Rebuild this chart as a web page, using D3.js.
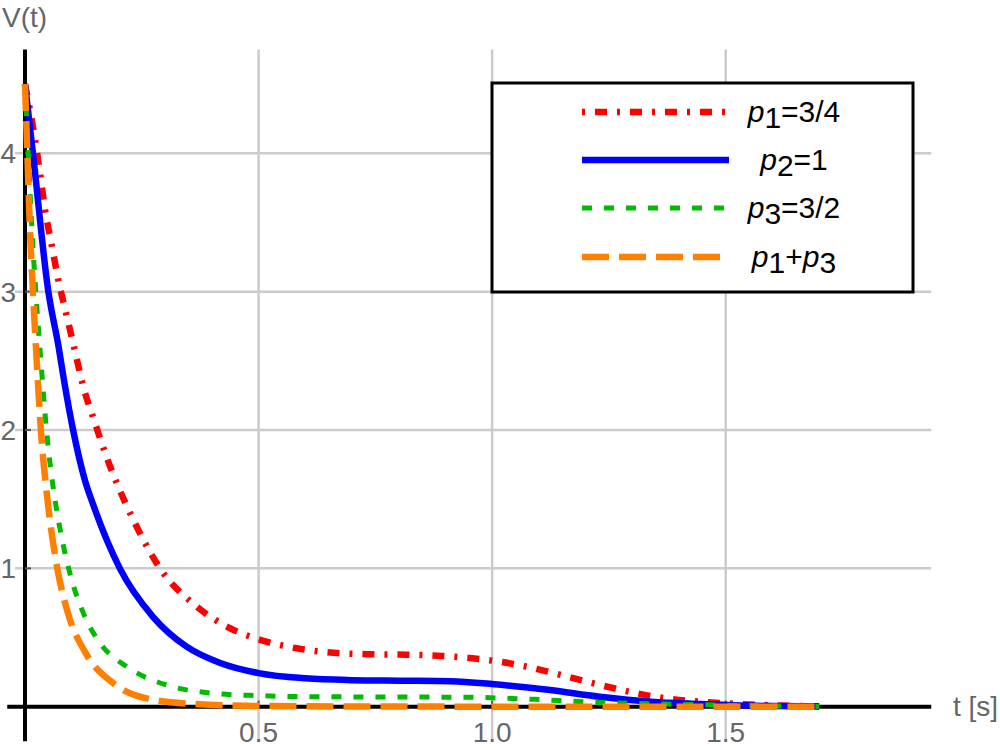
<!DOCTYPE html>
<html lang="en">
<head>
<meta charset="UTF-8">
<title>V(t)</title>
<script src="https://d3js.org/d3.v7.min.js"></script>
<style>
  body { margin: 0; background: #fff; }
  svg { display: block; font-family: "Liberation Sans", Arial, sans-serif; }
  .grid line { stroke: #cbcbcb; stroke-width: 2.5; }
  .tick-label { fill: #666; font-size: 28px; }
  .axis-title { fill: #666; font-size: 28px; }
  .legend-label { fill: #000; font-size: 30px; }
</style>
</head>
<body>
<div id="chart"></div>
<script>
// Series: t in seconds, V(t)
const tRed   = [0, 0.021, 0.032, 0.043, 0.057, 0.071, 0.089, 0.107, 0.125, 0.148, 0.173, 0.201, 0.232, 0.289, 0.368, 0.439, 0.5, 0.582, 0.66, 0.739, 0.817, 0.892, 0.967, 1.045, 1.12, 1.195, 1.27, 1.35, 1.42, 1.5, 1.6, 1.7];
const vRed   = [4.5, 4.11, 3.86, 3.59, 3.34, 3.09, 2.83, 2.57, 2.31, 2.07, 1.82, 1.58, 1.35, 1.0, 0.723, 0.567, 0.487, 0.422, 0.39, 0.379, 0.376, 0.367, 0.347, 0.309, 0.253, 0.188, 0.126, 0.072, 0.043, 0.025, 0.01, 0.003];

const tBlue  = [0, 0.017, 0.05, 0.072, 0.0835, 0.103, 0.128, 0.146, 0.203, 0.274, 0.346, 0.418, 0.5, 0.6, 0.7, 0.803, 0.91, 1.0, 1.124, 1.23, 1.34, 1.445, 1.55, 1.7];
const vBlue  = [4.5, 4.0, 3.0, 2.6, 2.36, 2.0, 1.64, 1.46, 1.0, 0.65, 0.434, 0.316, 0.243, 0.205, 0.192, 0.188, 0.184, 0.164, 0.12, 0.072, 0.036, 0.02, 0.008, 0.002];

const tGreen = [0, 0.007, 0.014, 0.023, 0.034, 0.046, 0.064, 0.077, 0.096, 0.125, 0.161, 0.218, 0.303, 0.403, 0.5, 0.632, 0.8, 0.946, 1.09, 1.195, 1.3, 1.41, 1.55, 1.7];
const vGreen = [4.5, 4.0, 3.5, 3.0, 2.5, 2.0, 1.5, 1.25, 0.966, 0.676, 0.459, 0.289, 0.157, 0.097, 0.08, 0.072, 0.07, 0.068, 0.053, 0.036, 0.024, 0.017, 0.008, 0.002];

const tOrange = [0, 0.005, 0.01, 0.017, 0.025, 0.034, 0.048, 0.066, 0.092, 0.13, 0.189, 0.26, 0.36, 0.5, 0.8, 1.2, 1.7];
const vOrange = [4.5, 4.0, 3.5, 3.0, 2.5, 2.0, 1.5, 1.06, 0.676, 0.387, 0.17, 0.06, 0.02, 0.005, 0.001, 0, 0];

const xTicks = [0.5, 1.0, 1.5];
const xTickLabels = ["0.5", "1.0", "1.5"];
const yTicks = [1, 2, 3, 4];
const yTickLabels = ["1", "2", "3", "4"];

const seriesNames = [["p", "1", "=3/4"], ["p", "2", "=1"], ["p", "3", "=3/2"], ["p", "1", "+", "p", "3"]];
const seriesColors = ["#ff0000", "#0000ff", "#00bb00", "#ff8000"];

// Chart drawing
const width = 1000, height = 750;
const svg = d3.select('#chart').append('svg')
  .attr('width', width)
  .attr('height', height);

const x = d3.scaleLinear().domain([0, 1.5]).range([25, 725.7]);
const y = d3.scaleLinear().domain([0, 4]).range([706.7, 153.3]);
const xMin = -0.038, xMax = 1.94, yMin = -0.25, yMax = 4.75;

// gridlines
const grid = svg.append('g').attr('class', 'grid');
grid.selectAll('.vg').data(xTicks).enter().append('line')
  .attr('x1', d => x(d)).attr('x2', d => x(d))
  .attr('y1', y(yMax)).attr('y2', y(yMin));
grid.selectAll('.hg').data(yTicks).enter().append('line')
  .attr('x1', 15).attr('x2', x(xMax))
  .attr('y1', d => y(d)).attr('y2', d => y(d));

// axes
svg.append('line')
  .attr('x1', x(xMin)).attr('x2', x(xMax))
  .attr('y1', y(0)).attr('y2', y(0))
  .attr('stroke', '#000').attr('stroke-width', 4);
svg.append('line')
  .attr('x1', x(0)).attr('x2', x(0))
  .attr('y1', y(yMax)).attr('y2', y(yMin))
  .attr('stroke', '#000').attr('stroke-width', 4);

// tick marks
svg.selectAll('.xt').data(xTicks).enter().append('line')
  .attr('x1', d => x(d)).attr('x2', d => x(d))
  .attr('y1', y(0) - 6).attr('y2', y(0))
  .attr('stroke', '#555').attr('stroke-width', 2);
svg.selectAll('.yt').data(yTicks).enter().append('line')
  .attr('x1', x(0)).attr('x2', x(0) + 6)
  .attr('y1', d => y(d)).attr('y2', d => y(d))
  .attr('stroke', '#555').attr('stroke-width', 2);

// tick labels
svg.selectAll('.xl').data(xTicks).enter().append('text')
  .attr('class', 'tick-label')
  .attr('x', d => x(d)).attr('y', 742)
  .attr('text-anchor', 'middle')
  .text((d, i) => xTickLabels[i]);
svg.selectAll('.yl').data(yTicks).enter().append('text')
  .attr('class', 'tick-label')
  .attr('x', 16).attr('y', d => y(d) + 10)
  .attr('text-anchor', 'end')
  .text((d, i) => yTickLabels[i]);

// axis titles
svg.append('text').attr('class', 'axis-title')
  .attr('x', 2).attr('y', 27).text('V(t)');
svg.append('text').attr('class', 'axis-title')
  .attr('x', 953).attr('y', 716).text('t [s]');

// curves
const lineStyles = [
  { w: 6.5, dash: '12,10,3,10' },
  { w: 6.5, dash: null },
  { w: 5, dash: '10,12' },
  { w: 6.5, dash: '27,10' }
];
const seriesData = [
  tRed.map((t, i) => [t, vRed[i]]),
  tBlue.map((t, i) => [t, vBlue[i]]),
  tGreen.map((t, i) => [t, vGreen[i]]),
  tOrange.map((t, i) => [t, vOrange[i]])
];
const line = d3.line()
  .x(d => x(d[0]))
  .y(d => y(d[1]))
  .curve(d3.curveMonotoneX);

seriesData.forEach((s, i) => {
  svg.append('path')
    .datum(s)
    .attr('d', line)
    .attr('fill', 'none')
    .attr('stroke', seriesColors[i])
    .attr('stroke-width', lineStyles[i].w)
    .attr('stroke-dasharray', lineStyles[i].dash);
});

// legend
const legend = svg.append('g');
legend.append('rect')
  .attr('x', 492).attr('y', 83)
  .attr('width', 421).attr('height', 209)
  .attr('fill', '#fff')
  .attr('stroke', '#000').attr('stroke-width', 3);

const rowY = [112, 160, 208, 257];
const legendOffsets = [22, 0, 0, 0];
seriesNames.forEach((parts, i) => {
  legend.append('line')
    .attr('x1', 582).attr('x2', 729)
    .attr('y1', rowY[i]).attr('y2', rowY[i])
    .attr('stroke', seriesColors[i])
    .attr('stroke-width', lineStyles[i].w)
    .attr('stroke-dasharray', lineStyles[i].dash)
    .attr('stroke-dashoffset', legendOffsets[i]);

  const txt = legend.append('text')
    .attr('class', 'legend-label')
    .attr('x', 794).attr('y', rowY[i] + 10)
    .attr('text-anchor', 'middle');
  parts.forEach((p, j) => {
    const ts = txt.append('tspan').text(p);
    if (p === 'p') ts.attr('font-style', 'italic');
    // subscript digit right after p, then back to the baseline
    if (/^[0-9]$/.test(p) && parts[j - 1] === 'p') ts.attr('dy', 6);
    if (j > 1 && /^[0-9]$/.test(parts[j - 1]) && parts[j - 2] === 'p') ts.attr('dy', -6);
  });
});
</script>
</body>
</html>
